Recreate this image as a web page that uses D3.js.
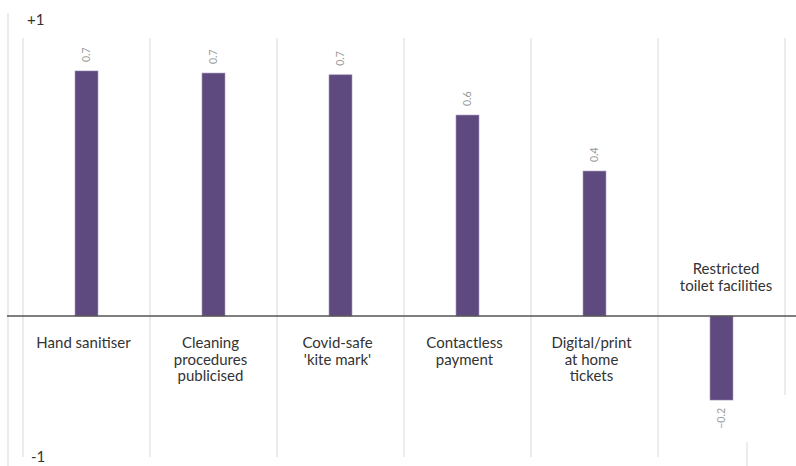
<!DOCTYPE html>
<html>
<head>
<meta charset="utf-8">
<script src="https://cdn.jsdelivr.net/npm/d3@7"></script>
<style>
  html, body { margin: 0; padding: 0; background: #fff; }
  svg { display: block; font-family: Lato, "Open Sans", sans-serif; }
</style>
</head>
<body>
<svg id="chart" width="796" height="466"></svg>
<script>
// Net effect of each venue measure on willingness to attend
const categories = [
  ["Hand sanitiser"],
  ["Cleaning", "procedures", "publicised"],
  ["Covid-safe", "'kite mark'"],
  ["Contactless", "payment"],
  ["Digital/print", "at home", "tickets"],
  ["Restricted", "toilet facilities"]
];
const values = [0.70, 0.694, 0.689, 0.574, 0.414, -0.24];
const scaleEnds = ["+1", "-1"];

const svg = d3.select("#chart");
const W = 796;

const x = d3.scaleBand()
  .domain(d3.range(categories.length))
  .range([23, 785])
  .paddingInner(0)
  .paddingOuter(0);

const y = d3.scaleLinear().domain([-0.4, 0.8]).range([456, 36]);
const barW = x.bandwidth() * 0.18;
const fmt = d3.format(".1f");

// outer frame line on the far left
svg.append("line")
  .attr("x1", 8).attr("x2", 8).attr("y1", 13).attr("y2", 466)
  .attr("stroke", "#e6e6e6").attr("stroke-width", 1.5);

// band separators
const seps = d3.range(categories.length + 1).map(i => i < categories.length ? x(i) : x(i - 1) + x.bandwidth());
svg.selectAll("line.sep").data(seps).join("line")
  .attr("class", "sep")
  .attr("x1", d => d).attr("x2", d => d)
  .attr("y1", y(0.8) + 2)
  .attr("y2", (d, i) => i === seps.length - 1 ? 395 : y(-0.4) + 1)
  .attr("stroke", "#e6e6e6").attr("stroke-width", 1.5);

svg.append("line")
  .attr("x1", 747).attr("x2", 747).attr("y1", 442).attr("y2", 466)
  .attr("stroke", "#e6e6e6").attr("stroke-width", 1.5);

// bars
svg.selectAll("rect.bar").data(values).join("rect")
  .attr("class", "bar")
  .attr("x", (d, i) => x(i) + x.bandwidth() / 2 - barW / 2)
  .attr("width", barW)
  .attr("y", d => y(Math.max(0, d)))
  .attr("height", d => Math.abs(y(d) - y(0)))
  .attr("fill", "#5e4a7e")
  .attr("stroke", "#8a7aa6").attr("stroke-width", 0.6);

// zero line
svg.append("line")
  .attr("x1", 7).attr("x2", W).attr("y1", y(0)).attr("y2", y(0))
  .attr("stroke", "#555").attr("stroke-width", 1.5);

// value labels, rotated
svg.selectAll("text.val").data(values).join("text")
  .attr("class", "val")
  .attr("transform", (d, i) => {
    const cx = x(i) + x.bandwidth() / 2;
    const cy = d >= 0 ? y(d) - 9 : y(d) + 8;
    return `translate(${cx},${cy}) rotate(-90)`;
  })
  .attr("text-anchor", d => d >= 0 ? "start" : "end")
  .attr("dy", "0.35em")
  .attr("font-size", 10.5)
  .attr("fill", "#9a9a9a")
  .text(d => fmt(d));

// category labels
categories.forEach((lines, i) => {
  const cx = x(i) + x.bandwidth() / 2 - 3;
  const neg = values[i] < 0;
  const t = svg.append("text")
    .attr("text-anchor", "middle")
    .attr("font-size", 15)
    .attr("fill", "#333");
  const y0 = neg ? y(0) - 42 : y(0) + 32;
  lines.forEach((s, k) => {
    t.append("tspan").attr("x", neg ? cx + 7.5 : cx).attr("y", y0 + k * 16.5).text(s);
  });
});

// scale end markers
svg.append("text").attr("x", 27).attr("y", 25)
  .attr("font-size", 15).attr("fill", "#333").text(scaleEnds[0]);
svg.append("text").attr("x", 31).attr("y", 462)
  .attr("font-size", 15).attr("fill", "#333").text(scaleEnds[1]);
</script>
</body>
</html>
